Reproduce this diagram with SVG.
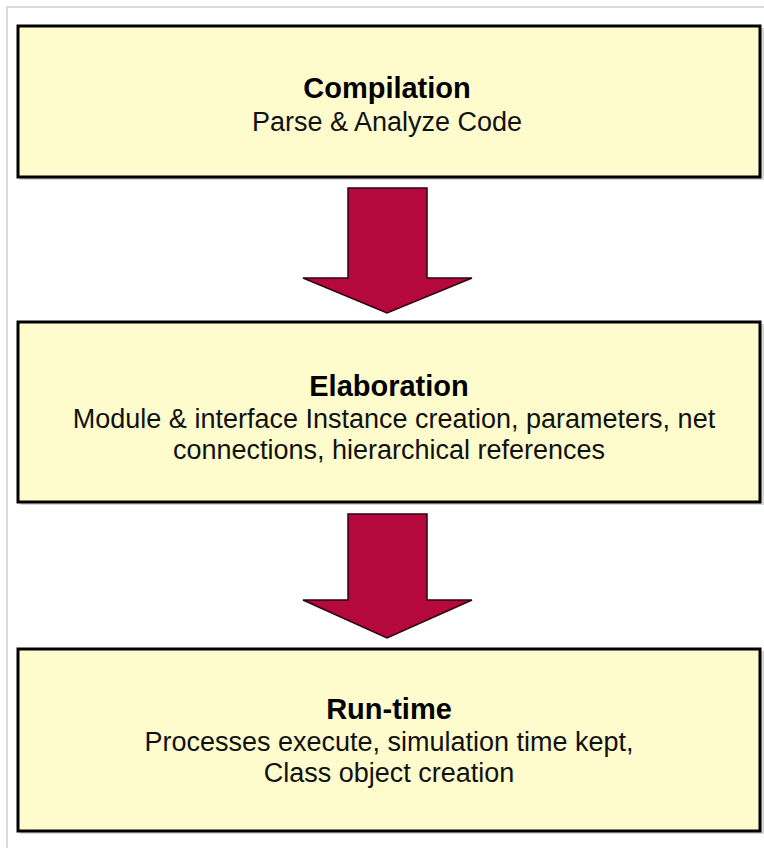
<svg xmlns="http://www.w3.org/2000/svg" width="764" height="848" viewBox="0 0 764 848">
<style>
.box{fill:#fefccc;stroke:#000;stroke-width:3}
.shadow{fill:#b0b0a0;opacity:0.5}
.title{font-family:"Liberation Sans",Arial,sans-serif;font-weight:bold;font-size:29px;fill:#000;text-anchor:middle}
.body{font-family:"Liberation Sans",Arial,sans-serif;font-size:27px;fill:#111;text-anchor:middle}
.arrow{fill:#b5083c;stroke:#2a0010;stroke-width:1.5}
.frame{stroke:#d0d0d0;stroke-width:1.5;fill:none}
</style>
<rect width="764" height="848" fill="#fff"/>
<path class="frame" d="M7,848 V7 H764"/>
<g id="compilation">
<rect class="shadow" x="20" y="28" width="744" height="152"/>
<rect class="box" x="18" y="26" width="742" height="151"/>
<text class="title" x="387" y="98">Compilation</text>
<text class="body" x="387" y="131">Parse &amp; Analyze Code</text>
</g>
<g id="elaboration">
<rect class="shadow" x="20" y="324" width="744" height="181"/>
<rect class="box" x="18" y="322" width="742" height="180"/>
<text class="title" x="389" y="396">Elaboration</text>
<text class="body" x="394" y="428">Module &amp; interface Instance creation, parameters, net</text>
<text class="body" x="389" y="459">connections, hierarchical references</text>
</g>
<g id="runtime">
<rect class="shadow" x="20" y="651" width="744" height="183"/>
<rect class="box" x="18" y="649" width="742" height="182"/>
<text class="title" x="389" y="719">Run-time</text>
<text class="body" x="389" y="751">Processes execute, simulation time kept,</text>
<text class="body" x="389" y="782">Class object creation</text>
</g>
<g id="connectors">
<polygon class="arrow" points="348,188 427,188 427,278 472,278 387,313 303,278 348,278"/>
<polygon class="arrow" points="348,514 427,514 427,600 472,600 387,638 303,600 348,600"/>
</g>
</svg>
